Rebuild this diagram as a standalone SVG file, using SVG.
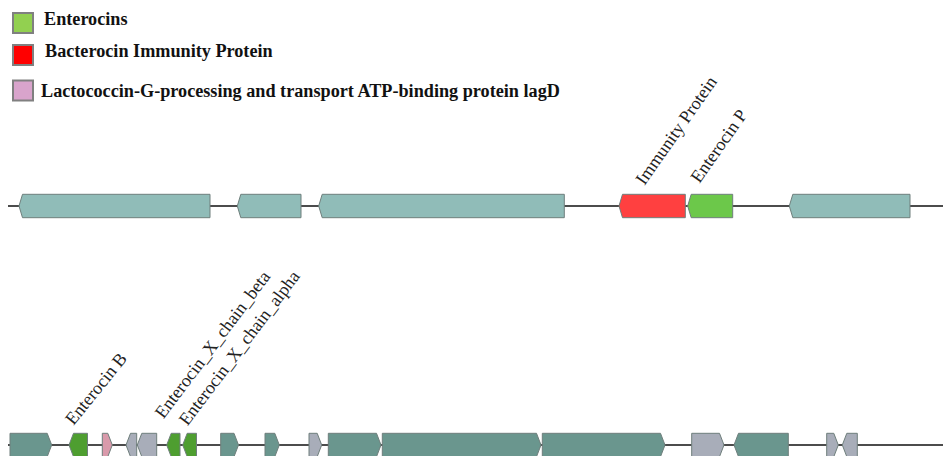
<svg xmlns="http://www.w3.org/2000/svg" width="943" height="456" viewBox="0 0 943 456">
<style>
.bg{fill:#ffffff}
.leg{font-family:"Liberation Serif","Times New Roman",serif;font-weight:bold;font-size:18.2px;fill:#111}
.lab{font-family:"Liberation Serif","Times New Roman",serif;font-size:18px;fill:#222}
.sq{stroke:#808080;stroke-width:2}
.g{stroke:#6f7f7c;stroke-width:1}
.teal1{fill:#90bcb8}
.red{fill:#ff4040}
.green1{fill:#6cc84a}
.teal2{fill:#6a968e}
.green2{fill:#4e9e30}
.grey{fill:#a8adb9}
.pink{fill:#d99aab}
.track{stroke:#111;stroke-width:1.5;fill:none}
</style>
<rect class="bg" x="0" y="0" width="943" height="456"/>
<g id="legend">
  <g id="legend-enterocins">
    <rect class="sq" x="13" y="13" width="20" height="20" fill="#92d050"/>
    <text class="leg" x="44" y="25">Enterocins</text>
  </g>
  <g id="legend-immunity">
    <rect class="sq" x="13" y="45" width="20" height="20" fill="#ff0000"/>
    <text class="leg" x="45" y="56.5">Bacterocin Immunity Protein</text>
  </g>
  <g id="legend-lagd">
    <rect class="sq" x="13" y="80.5" width="20" height="20" fill="#d9a4cc"/>
    <text class="leg" x="41" y="96.5">Lactococcin-G-processing and transport ATP-binding protein lagD</text>
  </g>
</g>
<g id="connectors">
  <line class="track" x1="8" y1="206" x2="943" y2="206"/>
  <line class="track" x1="8" y1="445" x2="943" y2="445"/>
</g>
<g id="track1">
  <g id="t1g1"><polygon class="g teal1" points="19,206 22.5,194.3 210,194.3 210,217.7 22.5,217.7"/></g>
  <g id="t1g2"><polygon class="g teal1" points="237.3,206 240.8,194.3 301,194.3 301,217.7 240.8,217.7"/></g>
  <g id="t1g3"><polygon class="g teal1" points="318.7,206 322.2,194.3 564.3,194.3 564.3,217.7 322.2,217.7"/></g>
  <g id="t1g4"><polygon class="g red" points="619,206 622.5,194.3 685.3,194.3 685.3,217.7 622.5,217.7"/>
    <text class="lab" transform="translate(644.5,186) rotate(-55)">Immunity Protein</text></g>
  <g id="t1g5"><polygon class="g green1" points="687.7,206 691.2,194.3 732.7,194.3 732.7,217.7 691.2,217.7"/>
    <text class="lab" transform="translate(699.5,184) rotate(-55)">Enterocin P</text></g>
  <g id="t1g6"><polygon class="g teal1" points="789.3,206 792.8,194.3 910,194.3 910,217.7 792.8,217.7"/></g>
</g>
<g id="track2">
  <g id="t2g1"><polygon class="g teal2" points="10,433.3 47.2,433.3 51.7,445 47.2,456.7 10,456.7"/></g>
  <g id="t2g2"><polygon class="g green2" points="69,445 73.5,433.3 87.5,433.3 87.5,456.7 73.5,456.7"/>
    <text class="lab" transform="translate(73.5,426) rotate(-51)">Enterocin B</text></g>
  <g id="t2g3"><polygon class="g pink" points="102.3,433.3 107.8,433.3 112.3,445 107.8,456.7 102.3,456.7"/></g>
  <g id="t2g4"><polygon class="g grey" points="126,445 130.5,433.3 136.7,433.3 136.7,456.7 130.5,456.7"/></g>
  <g id="t2g5"><polygon class="g grey" points="137.3,445 141.8,433.3 156.7,433.3 156.7,456.7 141.8,456.7"/></g>
  <g id="t2g6"><polygon class="g green2" points="166.7,445 171.2,433.3 180,433.3 180,456.7 171.2,456.7"/>
    <text class="lab" transform="translate(163.5,419.5) rotate(-53)">Enterocin_X_chain_beta</text></g>
  <g id="t2g7"><polygon class="g green2" points="182.7,445 187.2,433.3 196.5,433.3 196.5,456.7 187.2,456.7"/>
    <text class="lab" transform="translate(187.5,426.5) rotate(-53)">Enterocin_X_chain_alpha</text></g>
  <g id="t2g8"><polygon class="g teal2" points="220.7,433.3 234,433.3 238.5,445 234,456.7 220.7,456.7"/></g>
  <g id="t2g9"><polygon class="g teal2" points="265,433.3 274.8,433.3 279.3,445 274.8,456.7 265,456.7"/></g>
  <g id="t2g10"><polygon class="g grey" points="309,433.3 317.2,433.3 321.7,445 317.2,456.7 309,456.7"/></g>
  <g id="t2g11"><polygon class="g teal2" points="328.3,433.3 376.5,433.3 381,445 376.5,456.7 328.3,456.7"/></g>
  <g id="t2g12"><polygon class="g teal2" points="382.3,433.3 536.5,433.3 541,445 536.5,456.7 382.3,456.7"/></g>
  <g id="t2g13"><polygon class="g teal2" points="542.3,433.3 660.5,433.3 665,445 660.5,456.7 542.3,456.7"/></g>
  <g id="t2g14"><polygon class="g grey" points="691.7,433.3 719.5,433.3 724,445 719.5,456.7 691.7,456.7"/></g>
  <g id="t2g15"><polygon class="g teal2" points="734,445 738.5,433.3 788.3,433.3 788.3,456.7 738.5,456.7"/></g>
  <g id="t2g16"><polygon class="g grey" points="826.7,433.3 833.8,433.3 838.3,445 833.8,456.7 826.7,456.7"/></g>
  <g id="t2g17"><polygon class="g grey" points="842.3,445 846.8,433.3 857.3,433.3 857.3,456.7 846.8,456.7"/></g>
</g>
</svg>
